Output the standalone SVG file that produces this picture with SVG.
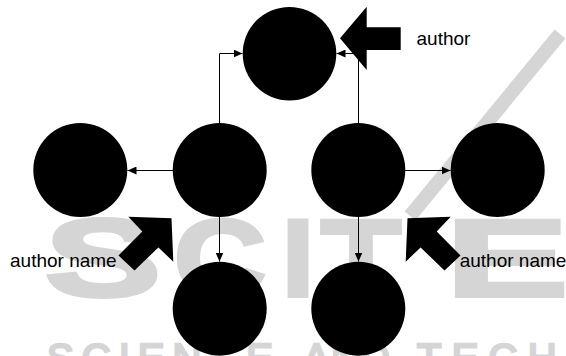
<svg xmlns="http://www.w3.org/2000/svg" width="566" height="356" viewBox="0 0 566 356">
  <style>
    .node { fill: #000; }
    .edge { fill: none; stroke: #000; stroke-width: 1; }
    .pointer { fill: #000; }
    .label { font-family: "Liberation Sans", Arial, sans-serif; font-size: 19px; fill: #000; }
    .mark { font-family: "Liberation Sans", Arial, sans-serif; font-weight: bold; font-size: 110px; fill: #d5d5d5; stroke: #d5d5d5; stroke-width: 4; }
    .mark-small { font-family: "Liberation Sans", Arial, sans-serif; font-size: 40px; fill: #d5d5d5; stroke: #d5d5d5; stroke-width: 2.5; }
  </style>
  <defs>
    <marker id="tip" markerUnits="userSpaceOnUse" markerWidth="10" markerHeight="8" refX="9" refY="4" orient="auto">
      <path d="M0,0 L9,4 L0,8 z" fill="#000"/>
    </marker>
  </defs>

  <!-- background watermark -->
  <g id="watermark">
    <text class="mark" x="45" y="296" textLength="116" lengthAdjust="spacingAndGlyphs">S</text>
    <text class="mark" x="174" y="296" textLength="92" lengthAdjust="spacingAndGlyphs">C</text>
    <text class="mark" x="282" y="296" textLength="32" lengthAdjust="spacingAndGlyphs">I</text>
    <text class="mark" x="321" y="296" textLength="80" lengthAdjust="spacingAndGlyphs">T</text>
    <text class="mark" x="446" y="296" textLength="122" lengthAdjust="spacingAndGlyphs">E</text>
    <path d="M410,216 L560,34" stroke="#d5d5d5" stroke-width="14" fill="none"/>
    <text class="mark-small" x="47" y="372" textLength="226">SCIENCE</text>
    <text class="mark-small" x="303" y="372" textLength="87">AND</text>
    <text class="mark-small" x="417" y="372" textLength="372">TECHNOLOGY</text>
  </g>

  <!-- connectors -->
  <g id="connectors">
    <path class="edge" d="M219.5,123 V53.5 H242.5" marker-end="url(#tip)"/>
    <path class="edge" d="M358.5,123 V53.5 H336.5" marker-end="url(#tip)"/>
    <path class="edge" d="M173,170.5 H127.5" marker-end="url(#tip)"/>
    <path class="edge" d="M405,170.5 H450.5" marker-end="url(#tip)"/>
    <path class="edge" d="M219.5,217 V261.5" marker-end="url(#tip)"/>
    <path class="edge" d="M358.5,217 V261.5" marker-end="url(#tip)"/>
  </g>

  <!-- nodes -->
  <g id="node-top"><circle class="node" cx="289.5" cy="53.7" r="46.8"/></g>
  <g id="node-far-left"><circle class="node" cx="80.3" cy="170" r="47"/></g>
  <g id="node-mid-left"><circle class="node" cx="219.7" cy="170" r="47"/></g>
  <g id="node-mid-right"><circle class="node" cx="358.3" cy="170" r="47"/></g>
  <g id="node-far-right"><circle class="node" cx="497.7" cy="170" r="47"/></g>
  <g id="node-bottom-left"><circle class="node" cx="219.7" cy="308.7" r="47"/></g>
  <g id="node-bottom-right"><circle class="node" cx="358.3" cy="308.7" r="47"/></g>

  <!-- annotation pointers with labels -->
  <g id="author">
    <polygon class="pointer" points="340,38.3 366.7,6.7 366.7,27.3 400.7,27.3 400.7,50 366.7,50 366.7,70"/>
    <text class="label" x="416.5" y="45">author</text>
  </g>
  <g id="author-name-left">
    <polygon class="pointer" points="171.5,218.3 128.3,216.7 142.3,231.5 118.5,255.5 134.5,270.5 158.4,247.4 173.3,261.7"/>
    <text class="label" x="10" y="266.7">author name</text>
  </g>
  <g id="author-name-right">
    <polygon class="pointer" points="407.5,218.3 450.7,216.7 436.7,231.5 460.5,255.5 444.5,270.5 420.6,247.4 405.7,261.7"/>
    <text class="label" x="459.7" y="266.7">author name</text>
  </g>
</svg>
